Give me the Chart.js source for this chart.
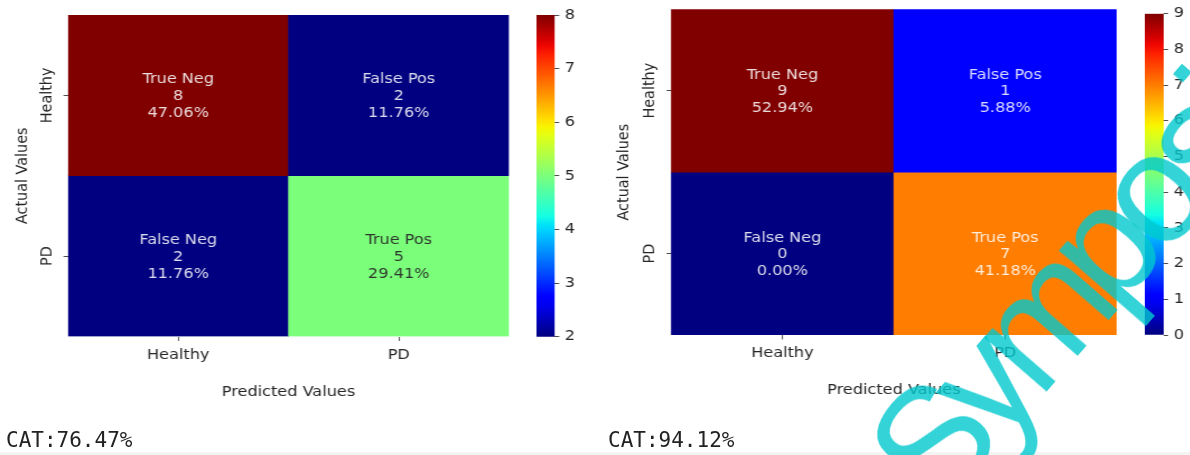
<!DOCTYPE html>
<html>
<head>
<meta charset="utf-8">
<script src="https://cdn.jsdelivr.net/npm/chart.js@4.4.1/dist/chart.umd.min.js"></script>
<style>
html, body { margin: 0; padding: 0; background: #fff; width: 1190px; height: 455px; overflow: hidden; position: relative; }
#stage { position: absolute; left: 0; top: 0; width: 1062.5px; height: 455px; transform: scaleX(1.12); transform-origin: 0 0; }
.box { position: absolute; }
.cat { position: absolute; top: 430.2px; font-family: 'DejaVu Sans Mono', monospace; font-size: 21px; line-height: 21px; color: #222; white-space: nowrap; }
#strip { position: absolute; left: 0; top: 451.5px; width: 1190px; height: 4px; background: #f4f4f4; }
#wm { position: absolute; left: 832.3px; top: 421.6px; font-family: 'Liberation Sans', Arial, sans-serif; font-size: 155px; letter-spacing: -14px; color: rgba(0,200,205,0.8); white-space: nowrap; transform: rotate(-49deg); transform-origin: 0 0; pointer-events: none; }
</style>
</head>
<body>
<div id="stage">
  <div class="box" style="left:0px;top:0px;width:460px;height:420px"><canvas id="heatL"></canvas></div>
  <div class="box" style="left:479.2px;top:0px;width:41.3px;height:360px"><canvas id="cbL"></canvas></div>
  <div class="box" style="left:540px;top:0px;width:462px;height:420px"><canvas id="heatR"></canvas></div>
  <div class="box" style="left:1022.3px;top:0px;width:42px;height:360px"><canvas id="cbR"></canvas></div>
</div>
<div id="strip"></div>
<div class="cat" id="catL" style="left:6px"></div>
<div class="cat" id="catR" style="left:608px"></div>
<div id="wm">Symposium</div>
<script>
// ---- data ----
const categories = ['Healthy', 'PD'];
const cellNames = [['True Neg', 'False Pos'], ['False Neg', 'True Pos']];
const leftCounts = [[8, 2], [2, 5]];
const leftPercents = [['47.06%', '11.76%'], ['11.76%', '29.41%']];
const rightCounts = [[9, 1], [0, 7]];
const rightPercents = [['52.94%', '5.88%'], ['0.00%', '41.18%']];
const leftCbTicks = [2, 3, 4, 5, 6, 7, 8];
const rightCbTicks = [0, 1, 2, 3, 4, 5, 6, 7, 8, 9];
const leftAccuracy = 'CAT:76.47%';
const rightAccuracy = 'CAT:94.12%';

document.getElementById('catL').textContent = leftAccuracy;
document.getElementById('catR').textContent = rightAccuracy;

// ---- jet colormap ----
const JR = [[0, 0], [0.35, 0], [0.66, 1], [0.89, 1], [1, 0.5]];
const JG = [[0, 0], [0.125, 0], [0.375, 1], [0.64, 1], [0.91, 0], [1, 0]];
const JB = [[0, 0.5], [0.11, 1], [0.34, 1], [0.65, 0], [1, 0]];
function interp(pts, t) {
  for (let i = 1; i < pts.length; i++) {
    if (t <= pts[i][0]) {
      const [x0, y0] = pts[i - 1], [x1, y1] = pts[i];
      return y0 + (y1 - y0) * (t - x0) / (x1 - x0);
    }
  }
  return pts[pts.length - 1][1];
}
function jet(t) {
  t = Math.max(0, Math.min(1, t));
  return [interp(JR, t), interp(JG, t), interp(JB, t)];
}
function rgbStr(c) { return 'rgb(' + c.map(v => Math.round(v * 255)).join(',') + ')'; }
function lum(c) {
  const l = c.map(v => v <= 0.03928 ? v / 12.92 : Math.pow((v + 0.055) / 1.055, 2.4));
  return 0.2126 * l[0] + 0.7152 * l[1] + 0.0722 * l[2];
}

const FONT = 'DejaVu Sans';
const FS = 14.4;
const TXT = '#262626';
const TICKC = '#505050';

function heatmap(id, counts, percents, vmin, vmax, geo) {
  const datasets = counts.map((row, r) => ({
    data: row.map(() => [r, r + 1]),
    backgroundColor: row.map(v => rgbStr(jet((v - vmin) / (vmax - vmin)))),
    borderWidth: 0,
    barPercentage: 1,
    categoryPercentage: 1,
    grouped: false
  }));
  const annot = {
    id: 'annot',
    afterDatasetsDraw(chart) {
      const ctx = chart.ctx;
      ctx.save();
      ctx.font = FS + 'px "' + FONT + '"';
      ctx.textAlign = 'center';
      ctx.textBaseline = 'middle';
      counts.forEach((row, r) => {
        const meta = chart.getDatasetMeta(r);
        row.forEach((v, c) => {
          const el = meta.data[c];
          const cx = el.x;
          const cy = (el.y + el.base) / 2 + 1;
          const col = jet((v - vmin) / (vmax - vmin));
          ctx.fillStyle = lum(col) > 0.408 ? 'rgba(38,38,38,0.92)' : 'rgba(255,255,255,0.86)';
          const lines = [cellNames[r][c], String(v), percents[r][c]];
          lines.forEach((t, k) => ctx.fillText(t, cx, cy + (k - 1) * 16.7));
        });
      });
      ctx.restore();
    }
  };
  new Chart(document.getElementById(id), {
    type: 'bar',
    data: { labels: categories, datasets },
    plugins: [annot],
    options: {
      responsive: true,
      maintainAspectRatio: false,
      animation: false,
      events: [],
      layout: { padding: { top: geo.top, right: geo.right, bottom: 0, left: 0 } },
      plugins: { legend: { display: false }, tooltip: { enabled: false } },
      scales: {
        x: {
          type: 'category',
          offset: true,
          grid: { offset: false, drawOnChartArea: false, drawTicks: true, tickLength: 4.5, color: TICKC },
          border: { display: false },
          ticks: { font: { family: FONT, size: FS }, color: TXT, padding: geo.xtickPad, maxRotation: 0, autoSkip: false },
          title: { display: true, text: 'Predicted Values', font: { family: FONT, size: FS }, color: TXT, padding: { top: 0, bottom: geo.xTitlePad } },
          afterFit: s => { s.height = geo.xAxisH; }
        },
        y: {
          type: 'linear',
          min: 0,
          max: 2,
          reverse: true,
          afterBuildTicks: s => { s.ticks = categories.map((c, i) => ({ value: i + 0.5 })); },
          ticks: {
            callback: (v, i) => categories[i],
            minRotation: 90, maxRotation: 90, crossAlign: 'center',
            padding: geo.ytickPad, autoSkip: false,
            font: { family: FONT, size: FS }, color: TXT
          },
          grid: { drawOnChartArea: false, drawTicks: true, tickLength: 4, color: TICKC },
          border: { display: false },
          title: { display: true, text: 'Actual Values', font: { family: FONT, size: FS }, color: TXT, padding: { top: geo.yTitlePad, bottom: 0 } },
          afterFit: s => { s.width = geo.yAxisW; }
        }
      }
    }
  });
}

function colorbar(id, ticksArr, geo) {
  const vmin = ticksArr[0], vmax = ticksArr[ticksArr.length - 1];
  new Chart(document.getElementById(id), {
    type: 'bar',
    data: {
      labels: [''],
      datasets: [{
        data: [[vmin, vmax]],
        borderWidth: 0,
        barPercentage: 1,
        categoryPercentage: 1,
        backgroundColor: (context) => {
          const a = context.chart.chartArea;
          if (!a) return rgbStr(jet(0.5));
          const g = context.chart.ctx.createLinearGradient(0, a.bottom, 0, a.top);
          const n = 40;
          for (let i = 0; i <= n; i++) g.addColorStop(i / n, rgbStr(jet(i / n)));
          return g;
        }
      }]
    },
    options: {
      responsive: true,
      maintainAspectRatio: false,
      animation: false,
      events: [],
      layout: { padding: { top: geo.top, bottom: geo.bottom, left: 0, right: 0 } },
      plugins: { legend: { display: false }, tooltip: { enabled: false } },
      scales: {
        x: { display: false },
        y: {
          position: 'right',
          min: vmin,
          max: vmax,
          afterBuildTicks: s => { s.ticks = ticksArr.map(v => ({ value: v })); },
          ticks: { font: { family: FONT, size: FS }, color: TXT, padding: 5, autoSkip: false },
          grid: { drawOnChartArea: false, drawTicks: true, tickLength: 4, color: TICKC },
          border: { display: false },
          afterFit: s => { s.width = 25; }
        }
      }
    }
  });
}

heatmap('heatL', leftCounts, leftPercents, 2, 8, {
  top: 15, right: 5.54, xAxisH: 83.5, yAxisW: 60.71, xtickPad: 5.4, xTitlePad: 19.4, yTitlePad: 11.6, ytickPad: -13
});
heatmap('heatR', rightCounts, rightPercents, 0, 9, {
  top: 9.3, right: 4.95, xAxisH: 85, yAxisW: 59.1, xtickPad: 4.9, xTitlePad: 20.7, yTitlePad: 9, ytickPad: -13
});
colorbar('cbL', leftCbTicks, { top: 15, bottom: 23.3 });
colorbar('cbR', rightCbTicks, { top: 9.3, bottom: 25 });
</script>
</body>
</html>
